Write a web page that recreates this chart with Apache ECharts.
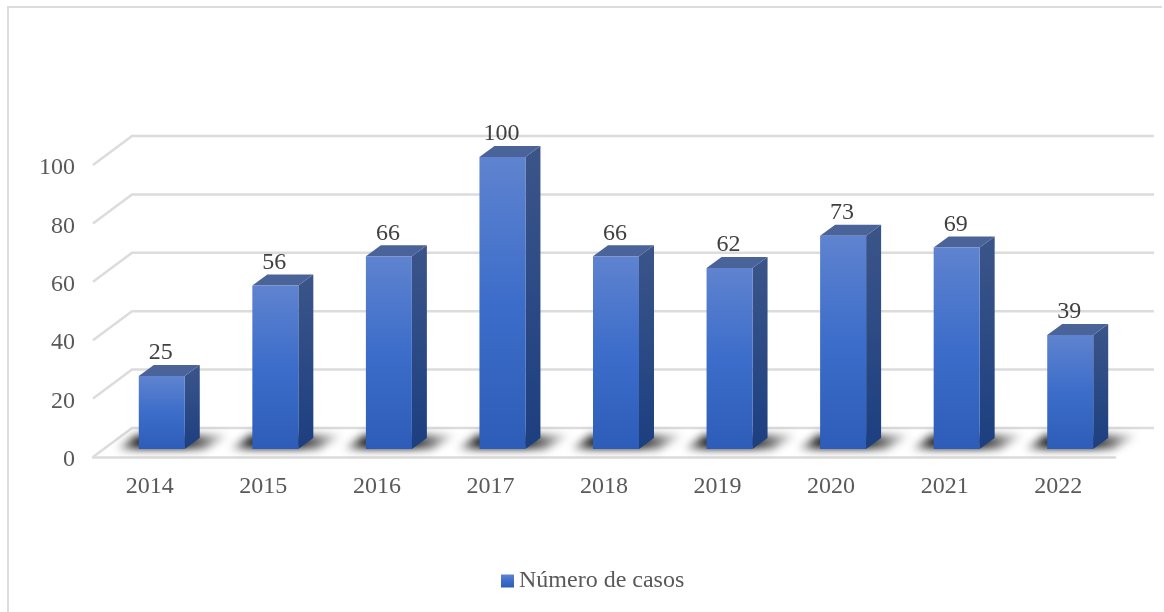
<!DOCTYPE html>
<html>
<head>
<meta charset="utf-8">
<style>
  html, body { margin: 0; padding: 0; background: #fff; }
  #chart { width: 1164px; height: 612px; }
</style>
<script src="https://cdn.jsdelivr.net/npm/echarts@6/dist/echarts.min.js"></script>
</head>
<body>
<div id="chart"></div>
<script>
const years = ['2014', '2015', '2016', '2017', '2018', '2019', '2020', '2021', '2022'];
const casos = [25, 56, 66, 100, 66, 62, 73, 69, 39];
const gridTicks = [0, 20, 40, 60, 80, 100];

const serifFont = '"Liberation Serif", "Times New Roman", serif';
const lineColor = '#dcdcdc';

// fake 3d: pixels that one whole step of depth moves on screen
const wallDx = 39, wallDy = 29;
const barInsetX = 12, barInsetY = 8;
const barDx = 15, barDy = 11;
const barRatio = 0.405;

const chart = echarts.init(document.getElementById('chart'), null, { renderer: 'canvas' });

// blurred floor shadow, drawn once and stamped under each bar
const shadowW = 190, shadowH = 60, shadowOx = 50, shadowOy = 35;
const shadowSprite = document.createElement('canvas');
shadowSprite.width = shadowW;
shadowSprite.height = shadowH;
(function () {
  const ctx = shadowSprite.getContext('2d');
  const fade = ctx.createLinearGradient(shadowOx - 26, 0, shadowOx + 94, 0);
  fade.addColorStop(0, 'rgba(20,20,20,0.1)');
  fade.addColorStop(0.2, 'rgba(20,20,20,0.95)');
  fade.addColorStop(0.6, 'rgba(20,20,20,0.95)');
  fade.addColorStop(1, 'rgba(20,20,20,0)');
  ctx.filter = 'blur(4px)';
  ctx.fillStyle = fade;
  ctx.beginPath();
  ctx.moveTo(shadowOx - 22, shadowOy);
  ctx.lineTo(shadowOx - 2, shadowOy - 14);
  ctx.lineTo(shadowOx + 90, shadowOy - 14);
  ctx.lineTo(shadowOx + 66, shadowOy);
  ctx.closePath();
  ctx.fill();
})();

function vGrad(top, bottom) {
  return new echarts.graphic.LinearGradient(0, 0, 0, 1, [
    { offset: 0, color: top },
    { offset: 1, color: bottom }
  ]);
}

function frontGrad() {
  return new echarts.graphic.LinearGradient(0, 0, 0, 1, [
    { offset: 0, color: '#5f83cf' },
    { offset: 0.5, color: '#3c6dca' },
    { offset: 1, color: '#2d5db8' }
  ]);
}

function renderWall(params, api) {
  const p = api.coord([0, api.value(0)]);
  const left = params.coordSys.x;
  const right = left + params.coordSys.width;
  const y = p[1];
  return {
    type: 'polyline',
    silent: true,
    shape: { points: [[left, y], [left + wallDx, y - wallDy], [right + wallDx, y - wallDy]] },
    style: { fill: 'none', stroke: lineColor, lineWidth: 2.5 }
  };
}

function renderShadow(params, api) {
  const base = api.coord([api.value(0), 0]);
  const w = api.size([1, 0])[0] * barRatio;
  return {
    type: 'image',
    silent: true,
    style: {
      image: shadowSprite,
      x: base[0] + barInsetX - w / 2 - shadowOx,
      y: base[1] - barInsetY - shadowOy,
      width: shadowW,
      height: shadowH
    }
  };
}

function renderBar(params, api) {
  const top = api.coord([api.value(0), api.value(1)]);
  const base = api.coord([api.value(0), 0]);
  const w = api.size([1, 0])[0] * barRatio;
  const x0 = top[0] + barInsetX - w / 2;
  const x1 = x0 + w;
  const yTop = top[1] - barInsetY;
  const yBase = base[1] - barInsetY;
  return {
    type: 'group',
    children: [
      {
        type: 'polygon',
        shape: { points: [[x1, yTop], [x1 + barDx, yTop - barDy], [x1 + barDx, yBase - barDy], [x1, yBase]] },
        style: { fill: vGrad('#3b5589', '#1c3f80') }
      },
      {
        type: 'polygon',
        shape: { points: [[x0, yTop], [x0 + barDx, yTop - barDy], [x1 + barDx, yTop - barDy], [x1, yTop]] },
        style: { fill: '#4a6399' }
      },
      {
        type: 'rect',
        shape: { x: x0, y: yTop, width: w, height: yBase - yTop },
        style: { fill: frontGrad() }
      },
      {
        type: 'text',
        style: {
          x: x0 + w / 2 - 1,
          y: yTop - 23,
          text: String(api.value(1)),
          fill: '#404040',
          font: '24px ' + serifFont,
          align: 'center',
          verticalAlign: 'middle'
        }
      }
    ]
  };
}

chart.setOption({
  animation: false,
  backgroundColor: '#fff',
  graphic: [
    {
      type: 'polyline',
      silent: true,
      shape: { points: [[8, 612], [8, 7], [1162, 7]] },
      style: { fill: 'none', stroke: lineColor, lineWidth: 2 }
    }
  ],
  legend: {
    data: ['Número de casos'],
    left: 501,
    top: 569,
    padding: 0,
    icon: 'rect',
    itemWidth: 13,
    itemHeight: 13,
    itemGap: 5,
    textStyle: { color: '#595959', fontSize: 24, fontFamily: serifFont, padding: [4, 0, 0, 0] }
  },
  grid: { left: 93, right: 49, top: 165, bottom: 155 },
  xAxis: {
    type: 'category',
    data: years,
    axisTick: { show: false },
    axisLine: { lineStyle: { color: lineColor, width: 2.5 } },
    axisLabel: { color: '#595959', fontSize: 24, fontFamily: serifFont, margin: 18 }
  },
  yAxis: {
    type: 'value',
    min: 0,
    max: 100,
    interval: 20,
    axisLine: { show: false },
    axisTick: { show: false },
    splitLine: { show: false },
    axisLabel: {
      color: '#595959', fontSize: 24, fontFamily: serifFont, margin: 18,
      formatter: '{a|{value}}',
      rich: { a: { color: '#595959', fontSize: 24, fontFamily: serifFont, padding: [6, 0, 0, 0] } }
    }
  },
  series: [
    {
      name: 'paredes',
      type: 'custom',
      silent: true,
      clip: false,
      z: 1,
      renderItem: renderWall,
      data: gridTicks.map(v => [v])
    },
    {
      name: 'sombras',
      type: 'custom',
      silent: true,
      clip: false,
      z: 2,
      renderItem: renderShadow,
      data: casos.map((v, i) => [i, v])
    },
    {
      name: 'Número de casos',
      type: 'custom',
      clip: false,
      z: 3,
      itemStyle: { color: frontGrad() },
      renderItem: renderBar,
      data: casos.map((v, i) => [i, v])
    }
  ]
});
</script>
</body>
</html>
